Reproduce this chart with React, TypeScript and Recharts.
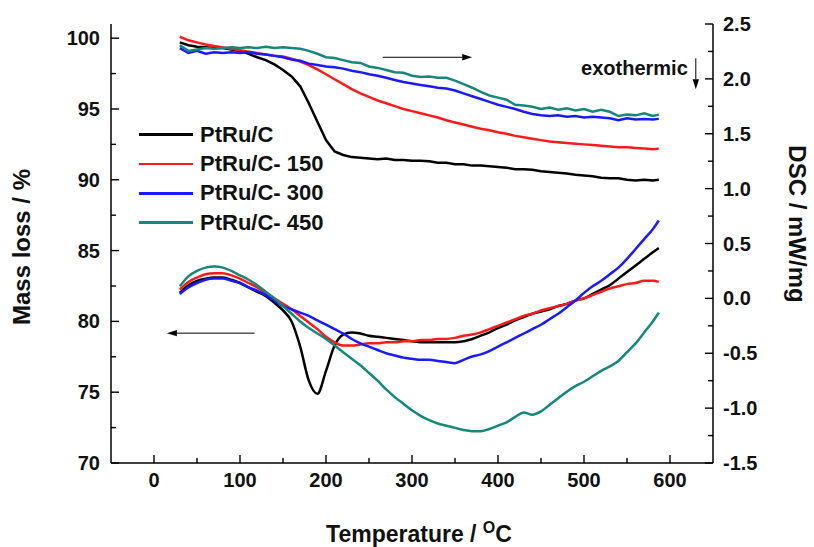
import { LineChart, Line, XAxis, YAxis, ReferenceLine, Label } from "recharts";

const FONT = "Arial, 'Liberation Sans', sans-serif";

// temperature (°C)
const temps = [
  30, 40, 50, 60, 70, 80, 90, 100, 110, 120,
  130, 140, 150, 160, 170, 180, 190, 200, 210, 220,
  230, 240, 250, 260, 270, 280, 290, 300, 310, 320,
  330, 340, 350, 360, 370, 380, 390, 400, 410, 420,
  430, 440, 450, 460, 470, 480, 490, 500, 510, 520,
  530, 540, 550, 560, 570, 580, 587,
];

// mass loss (%), left axis
const massPtRuC = [
  99.7, 99.5, 99.4, 99.35, 99.3, 99.3, 99.2, 99.1, 98.9, 98.65,
  98.45, 98.15, 97.75, 97.3, 96.6, 95.4, 94.1, 92.8, 92.0, 91.75,
  91.6, 91.55, 91.5, 91.45, 91.5, 91.4, 91.4, 91.35, 91.35, 91.3,
  91.2, 91.2, 91.1, 91.1, 91.0, 91.0, 90.95, 90.9, 90.85, 90.75,
  90.75, 90.7, 90.6, 90.55, 90.5, 90.45, 90.35, 90.3, 90.25, 90.15,
  90.1, 90.1, 90.0, 89.95, 90.0, 89.95, 90.0,
];
const massPtRuC150 = [
  100.1, 99.85, 99.7, 99.55, 99.45, 99.35, 99.25, 99.15, 99.05, 98.95,
  98.85, 98.75, 98.7, 98.55, 98.35, 98.1, 97.8, 97.45, 97.1, 96.75,
  96.4, 96.1, 95.85, 95.6, 95.4, 95.2, 95.0, 94.85, 94.7, 94.55,
  94.4, 94.2, 94.05, 93.9, 93.75, 93.6, 93.5, 93.35, 93.25, 93.1,
  93.0, 92.9, 92.8, 92.7, 92.65, 92.6, 92.55, 92.5, 92.45, 92.4,
  92.35, 92.3, 92.3, 92.25, 92.2, 92.15, 92.2,
];
const massPtRuC300 = [
  99.3, 98.95, 99.1, 98.9, 99.0, 98.95, 99.0, 98.95, 99.0, 98.9,
  98.85, 98.75, 98.65, 98.5, 98.4, 98.2, 98.1, 98.0, 97.95, 97.85,
  97.7, 97.6, 97.45, 97.35, 97.2, 97.05, 96.9, 96.8, 96.7, 96.6,
  96.5, 96.45, 96.3, 96.1, 95.9, 95.7, 95.5, 95.3, 95.15, 95.0,
  94.8, 94.65, 94.55, 94.5, 94.55, 94.45, 94.5, 94.4, 94.45, 94.4,
  94.35, 94.2, 94.35, 94.25, 94.3, 94.25, 94.3,
];
const massPtRuC450 = [
  99.5, 99.1, 99.2, 99.3, 99.25, 99.3, 99.35, 99.3, 99.35, 99.3,
  99.4, 99.3, 99.35, 99.3, 99.25, 99.1, 98.9, 98.65, 98.6, 98.45,
  98.3, 98.25, 98.0, 97.9, 97.75, 97.6, 97.55, 97.35, 97.25, 97.3,
  97.2, 97.2, 97.0, 96.75, 96.5, 96.2, 95.95, 95.8, 95.65, 95.3,
  95.25, 95.15, 95.0, 95.1, 94.95, 95.05, 94.9, 95.0, 94.8, 94.95,
  94.8, 94.5, 94.6, 94.55, 94.7, 94.5, 94.6,
];

// DSC (mW/mg), right axis
const dscPtRuC = [
  0.05, 0.12, 0.16, 0.18, 0.19, 0.19, 0.17, 0.14, 0.10, 0.06,
  0.02, -0.04, -0.11, -0.21, -0.44, -0.75, -0.87, -0.66, -0.43, -0.33,
  -0.31, -0.32, -0.34, -0.35, -0.36, -0.37, -0.38, -0.39, -0.40, -0.40,
  -0.40, -0.40, -0.40, -0.39, -0.37, -0.34, -0.31, -0.27, -0.24, -0.20,
  -0.17, -0.14, -0.12, -0.10, -0.07, -0.05, -0.02, 0.00, 0.04, 0.08,
  0.12, 0.18, 0.24, 0.30, 0.36, 0.42, 0.46,
];
const dscPtRuC150 = [
  0.08, 0.15, 0.19, 0.22, 0.23, 0.23, 0.21, 0.18, 0.14, 0.10,
  0.05, 0.00, -0.05, -0.10, -0.16, -0.22, -0.28, -0.35, -0.40, -0.43,
  -0.43, -0.42, -0.41, -0.41, -0.40, -0.40, -0.39, -0.39, -0.38, -0.38,
  -0.37, -0.37, -0.36, -0.34, -0.33, -0.31, -0.28, -0.25, -0.22, -0.19,
  -0.16, -0.14, -0.11, -0.09, -0.07, -0.05, -0.02, 0.00, 0.03, 0.06,
  0.09, 0.11, 0.13, 0.14, 0.16, 0.16, 0.15,
];
const dscPtRuC300 = [
  0.04, 0.10, 0.14, 0.17, 0.18, 0.18, 0.16, 0.14, 0.10, 0.07,
  0.03, -0.02, -0.07, -0.10, -0.13, -0.16, -0.20, -0.24, -0.28, -0.32,
  -0.37, -0.41, -0.44, -0.47, -0.50, -0.52, -0.54, -0.55, -0.56, -0.56,
  -0.57, -0.58, -0.59, -0.56, -0.53, -0.51, -0.48, -0.44, -0.40, -0.36,
  -0.32, -0.28, -0.24, -0.19, -0.14, -0.08, -0.02, 0.05, 0.11, 0.16,
  0.22, 0.28, 0.36, 0.45, 0.54, 0.63, 0.71,
];
const dscPtRuC450 = [
  0.11, 0.20, 0.25, 0.28, 0.29, 0.28, 0.25, 0.21, 0.17, 0.12,
  0.06, 0.00, -0.07, -0.14, -0.21, -0.27, -0.32, -0.37, -0.43, -0.49,
  -0.55, -0.61, -0.68, -0.75, -0.83, -0.90, -0.96, -1.02, -1.07, -1.11,
  -1.14, -1.16, -1.18, -1.20, -1.21, -1.21, -1.19, -1.16, -1.13, -1.08,
  -1.04, -1.06, -1.03, -0.97, -0.91, -0.85, -0.80, -0.76, -0.71, -0.66,
  -0.62, -0.57, -0.49, -0.41, -0.31, -0.21, -0.13,
];

const seriesNames = ["PtRu/C", "PtRu/C- 150", "PtRu/C- 300", "PtRu/C- 450"];
const seriesColors = ["#000000", "#ff1a1a", "#1a1aff", "#16877c"];

const xTicks = [0, 50, 100, 150, 200, 250, 300, 350, 400, 450, 500, 550, 600];
const massTicks = [70, 72.5, 75, 77.5, 80, 82.5, 85, 87.5, 90, 92.5, 95, 97.5, 100];
const dscTicks = [-1.5, -1.25, -1, -0.75, -0.5, -0.25, 0, 0.25, 0.5, 0.75, 1, 1.25, 1.5, 1.75, 2, 2.25, 2.5];

const data = temps.map((t, i) => ({
  t,
  m0: massPtRuC[i],
  m1: massPtRuC150[i],
  m2: massPtRuC300[i],
  m3: massPtRuC450[i],
  d0: dscPtRuC[i],
  d1: dscPtRuC150[i],
  d2: dscPtRuC300[i],
  d3: dscPtRuC450[i],
}));

const tickText = { fontFamily: FONT, fontWeight: "bold" as const, fontSize: 20, fill: "#111" };

const BottomTick = ({ x, y, payload }: any) => {
  const major = payload.value % 100 === 0;
  return (
    <g>
      <line x1={x} y1={y} x2={x} y2={y - (major ? 8 : 5)} stroke="#000" strokeWidth={1.4} />
      {major && (
        <text x={x} y={y + 24} textAnchor="middle" {...tickText}>
          {payload.value}
        </text>
      )}
    </g>
  );
};

const TopTick = ({ x, y, payload }: any) => {
  const major = payload.value % 100 === 0;
  return <line x1={x} y1={y} x2={x} y2={y + (major ? 8 : 5)} stroke="#000" strokeWidth={1.4} />;
};

const LeftTick = ({ x, y, payload }: any) => {
  const major = payload.value % 5 === 0;
  return (
    <g>
      <line x1={x} y1={y} x2={x + (major ? 8 : 5)} y2={y} stroke="#000" strokeWidth={1.4} />
      {major && (
        <text x={x - 11} y={y + 7} textAnchor="end" {...tickText}>
          {payload.value}
        </text>
      )}
    </g>
  );
};

const RightTick = ({ x, y, payload }: any) => {
  const v = payload.value;
  const major = Math.abs(v * 2 - Math.round(v * 2)) < 1e-6;
  return (
    <g>
      <line x1={x} y1={y} x2={x - (major ? 8 : 5)} y2={y} stroke="#000" strokeWidth={1.4} />
      {major && (
        <text x={x + 10} y={y + 7} textAnchor="start" {...tickText}>
          {v.toFixed(1)}
        </text>
      )}
    </g>
  );
};

const Arrow = ({ x1, y1, x2, y2, text }: any) => {
  const ang = Math.atan2(y2 - y1, x2 - x1);
  const len = 10;
  const w = 3.2;
  const bx = x2 - len * Math.cos(ang);
  const by = y2 - len * Math.sin(ang);
  const px = -Math.sin(ang) * w;
  const py = Math.cos(ang) * w;
  return (
    <g>
      <line x1={x1} y1={y1} x2={bx} y2={by} stroke="#000" strokeWidth={1} />
      <polygon points={`${x2},${y2} ${bx + px},${by + py} ${bx - px},${by - py}`} fill="#000" />
      {text && (
        <text x={x1 - 8} y={y1 + 17} textAnchor="end" fontFamily={FONT} fontWeight="bold" fontSize={20} fill="#111">
          {text}
        </text>
      )}
    </g>
  );
};

function SeriesLegend() {
  return (
    <div
      style={{
        position: "absolute",
        left: 139,
        top: 120,
        fontFamily: FONT,
        fontWeight: "bold",
        fontSize: 22,
        color: "#111",
      }}
    >
      {seriesNames.map((name, i) => (
        <div key={name} style={{ display: "flex", alignItems: "center", height: 29.3 }}>
          <div style={{ width: 54, height: 2.6, background: seriesColors[i], marginRight: 7 }} />
          <span>{name}</span>
        </div>
      ))}
    </div>
  );
}

export default function App() {
  return (
    <div style={{ position: "absolute", left: 0, top: 0, width: 814, height: 547, background: "#fff" }}>
      <LineChart width={814} height={547} data={data} margin={{ top: 24, right: 0, bottom: 0, left: 0 }}>
        <XAxis
          xAxisId="bottom"
          dataKey="t"
          type="number"
          domain={[-50, 650]}
          ticks={xTicks}
          interval={0}
          height={84}
          tickSize={0}
          tickMargin={0}
          tickLine={false}
          tick={BottomTick}
          axisLine={{ stroke: "#000", strokeWidth: 1.5 }}
        >
          <Label
            content={() => (
              <text x={419} y={542} textAnchor="middle" fontFamily={FONT} fontWeight="bold" fontSize={23} fill="#111">
                <tspan>Temperature / </tspan>
                <tspan dy={-9} fontSize={16}>O</tspan>
                <tspan dy={9}>C</tspan>
              </text>
            )}
          />
        </XAxis>
        <XAxis
          xAxisId="top"
          orientation="top"
          dataKey="t"
          type="number"
          domain={[-50, 650]}
          ticks={xTicks}
          interval={0}
          height={0}
          tickSize={0}
          tickMargin={0}
          tickLine={false}
          tick={TopTick}
          axisLine={{ stroke: "#000", strokeWidth: 1.5 }}
        />
        <YAxis
          yAxisId="left"
          type="number"
          domain={[70, 101]}
          ticks={massTicks}
          interval={0}
          width={111}
          tickSize={0}
          tickMargin={0}
          tickLine={false}
          tick={LeftTick}
          axisLine={{ stroke: "#000", strokeWidth: 1.5 }}
        >
          <Label
            content={() => (
              <text
                x={30}
                y={247}
                transform="rotate(-90 30 247)"
                textAnchor="middle"
                fontFamily={FONT}
                fontWeight="bold"
                fontSize={24}
                fill="#111"
              >
                Mass loss / %
              </text>
            )}
          />
        </YAxis>
        <YAxis
          yAxisId="right"
          orientation="right"
          type="number"
          domain={[-1.5, 2.5]}
          ticks={dscTicks}
          interval={0}
          width={101}
          tickSize={0}
          tickMargin={0}
          tickLine={false}
          tick={RightTick}
          axisLine={{ stroke: "#000", strokeWidth: 1.5 }}
        >
          <Label
            content={() => (
              <text
                x={789}
                y={224}
                transform="rotate(90 789 224)"
                textAnchor="middle"
                fontFamily={FONT}
                fontWeight="bold"
                fontSize={24}
                fill="#111"
              >
                DSC / mW/mg
              </text>
            )}
          />
        </YAxis>

        {["m0", "m1", "m2", "m3"].map((k, i) => (
          <Line
            key={k}
            xAxisId="bottom"
            yAxisId="left"
            dataKey={k}
            type="linear"
            stroke={seriesColors[i]}
            strokeWidth={2.5}
            dot={false}
            isAnimationActive={false}
          />
        ))}
        {["d0", "d1", "d2", "d3"].map((k, i) => (
          <Line
            key={k}
            xAxisId="bottom"
            yAxisId="right"
            dataKey={k}
            type="monotone"
            stroke={seriesColors[i]}
            strokeWidth={2.5}
            dot={false}
            isAnimationActive={false}
          />
        ))}

        <ReferenceLine
          xAxisId="bottom"
          yAxisId="left"
          segment={[{ x: 266, y: 98.65 }, { x: 370, y: 98.65 }]}
          shape={(p: any) => <Arrow {...p} />}
        />
        <ReferenceLine
          xAxisId="bottom"
          yAxisId="left"
          segment={[{ x: 117, y: 79.17 }, { x: 15, y: 79.17 }]}
          shape={(p: any) => <Arrow {...p} />}
        />
        <ReferenceLine
          xAxisId="bottom"
          yAxisId="left"
          segment={[{ x: 630, y: 98.58 }, { x: 630, y: 96.39 }]}
          shape={(p: any) => <Arrow {...p} text="exothermic" />}
        />
      </LineChart>
      <SeriesLegend />
    </div>
  );
}
